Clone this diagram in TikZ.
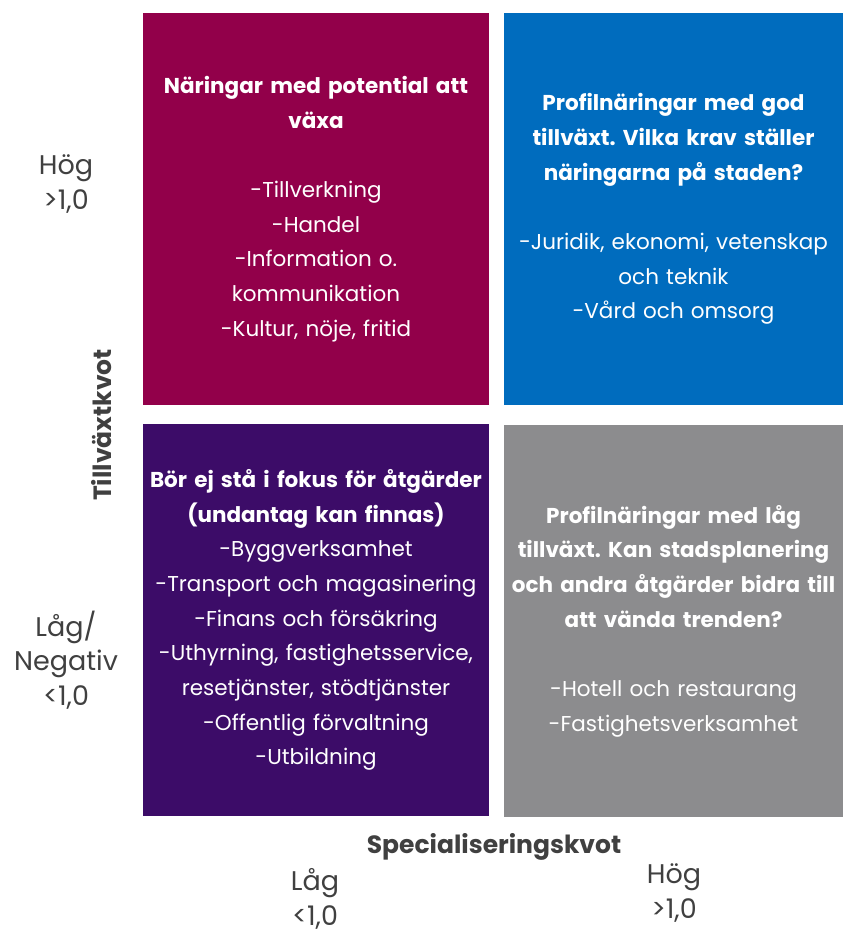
\documentclass[tikz,border=0pt]{standalone}
\usepackage{fontspec}
\setmainfont{Poppins}
\definecolor{crx}{RGB}{146,0,74}
\definecolor{blx}{RGB}{0,108,190}
\definecolor{pux}{RGB}{60,12,104}
\definecolor{grx}{RGB}{140,140,142}
\definecolor{txx}{RGB}{64,64,64}
\tikzset{
    quad/.style={fill=#1,text=white,inner sep=0pt,minimum height=392pt,align=center,
        font=\fontsize{21.5}{34.7}\selectfont},
    axis/.style={txx,inner sep=0pt,align=center,font=\fontsize{27}{34.7}\selectfont},
    axtitle/.style={txx,inner sep=0pt,font=\fontsize{25}{30}\selectfont\bfseries}
}
\frenchspacing

\begin{document}
\begin{tikzpicture}[x=1pt,y=-1pt]
        \def\gap{\\[34.7pt]}
        \useasboundingbox (0,0) rectangle (843,936);
        % the four fields
        \node [quad=crx,text width=346pt] (growth) at (316,209)
            {\textbf{Näringar med potential att}\\ \textbf{växa}\gap
             -Tillverkning\\ -Handel\\ -Information o.\\ kommunikation\\ -Kultur, nöje, fritid};
        \node [quad=blx,text width=339pt] (good) at (673.5,209)
            {\textbf{Profilnäringar med god}\\ \textbf{tillväxt. Vilka krav ställer}\\
             \textbf{näringarna på staden?}\gap
             -Juridik, ekonomi, vetenskap\\ och teknik\\ -Vård och omsorg};
        \node [quad=pux,text width=346pt] (nofocus) at (316,620)
            {\textbf{Bör ej stå i fokus för åtgärder}\\ \textbf{(undantag kan finnas)}\\
             -Byggverksamhet\\ -Transport och magasinering\\ -Finans och försäkring\\
             -Uthyrning, fastighetsservice,\\ resetjänster, stödtjänster\\
             -Offentlig förvaltning\\ -Utbildning};
        \node [quad=grx,text width=339pt] (low) at (673.5,621)
            {\textbf{Profilnäringar med låg}\\ \textbf{tillväxt. Kan stadsplanering}\\
             \textbf{och andra åtgärder bidra till}\\ \textbf{att vända trenden?}\gap
             -Hotell och restaurang\\ -Fastighetsverksamhet};
        % axes
        \node [axis] (yhigh) at (66,184) {Hög\\ >1,0};
        \node [axis] (ylow) at (66,660) {Låg/\\ Negativ\\ <1,0};
        \node [axtitle,rotate=90] (ytitle) at (102,425) {Tillväxtkvot};
        \node [axtitle] (xtitle) at (494,847) {Specialiseringskvot};
        \node [axis] (xlow) at (315,899) {Låg\\ <1,0};
        \node [axis] (xhigh) at (674,893) {Hög\\ >1,0};
    \end{tikzpicture}
\end{document}
